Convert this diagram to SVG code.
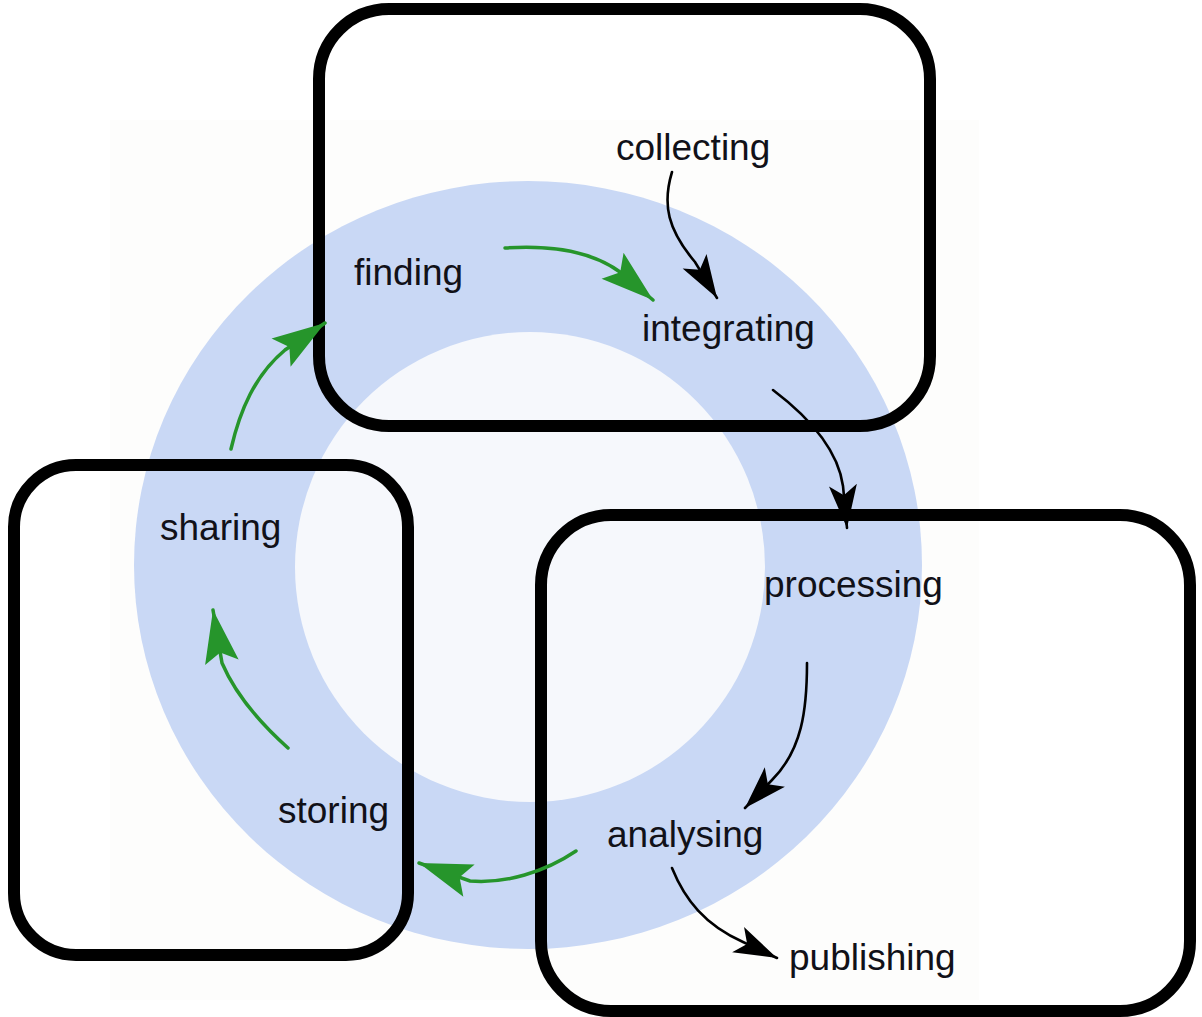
<svg xmlns="http://www.w3.org/2000/svg" width="1202" height="1017" viewBox="0 0 1202 1017">
  <defs>
    <style>
      .lbl { font-family: "Liberation Sans", Arial, Helvetica, sans-serif; font-size: 37px; fill: #111118; }
      .frame { fill: none; stroke: #000; stroke-width: 12; }
      .flow { fill: none; stroke: #26952b; stroke-width: 3.5; stroke-linecap: round; }
      .data { fill: none; stroke: #000; stroke-width: 2.6; stroke-linecap: round; }
    </style>
    <!-- barbed arrowheads, tip at the path end -->
    <marker id="head-green" viewBox="-56 -20 58 40" refX="0" refY="0" markerWidth="58" markerHeight="40" markerUnits="userSpaceOnUse" orient="auto">
      <path d="M0,0 L-53,-17 L-43,0 L-53,17 Z" fill="#26952b"/>
    </marker>
    <marker id="head-black" viewBox="-46 -16 48 32" refX="0" refY="0" markerWidth="48" markerHeight="32" markerUnits="userSpaceOnUse" orient="auto">
      <path d="M0,0 L-43,-14 L-33,0 L-43,14 Z" fill="#000"/>
    </marker>
  </defs>

  <!-- backdrop -->
  <rect x="0" y="0" width="1202" height="1017" fill="#ffffff"/>
  <rect x="110" y="120" width="869" height="880" fill="#fdfdfc"/>

  <!-- life-cycle ring -->
  <g id="ring">
    <ellipse cx="528" cy="565" rx="394" ry="384" fill="#c9d8f5"/>
    <circle cx="530" cy="567" r="235" fill="#f6f8fc"/>
  </g>

  <!-- grouping frames -->
  <g id="frame-acquire">
    <rect class="frame" x="319" y="9" width="611" height="417" rx="70" ry="70"/>
  </g>
  <g id="frame-archive">
    <rect class="frame" x="14" y="465" width="394" height="490" rx="62" ry="62"/>
  </g>
  <g id="frame-analyse">
    <rect class="frame" x="541" y="515" width="649" height="496" rx="70" ry="70"/>
  </g>

  <!-- stages -->
  <g id="collecting"><text class="lbl" x="616" y="160">collecting</text></g>
  <g id="finding"><text class="lbl" x="354" y="285">finding</text></g>
  <g id="integrating"><text class="lbl" x="642" y="341">integrating</text></g>
  <g id="processing"><text class="lbl" x="764" y="597">processing</text></g>
  <g id="analysing"><text class="lbl" x="607" y="847">analysing</text></g>
  <g id="publishing"><text class="lbl" x="789" y="970">publishing</text></g>
  <g id="sharing"><text class="lbl" x="160" y="540">sharing</text></g>
  <g id="storing"><text class="lbl" x="278" y="823">storing</text></g>

  <!-- connectors -->
  <g id="connectors">
    <path class="flow" d="M505,248 C550,245 590,250 620,272 L653,300" marker-end="url(#head-green)"/>
    <path class="flow" d="M576,851 C545,872 505,884 470,881 L419,863" marker-end="url(#head-green)"/>
    <path class="flow" d="M288,748 Q240,705 222,663 L213,610" marker-end="url(#head-green)"/>
    <path class="flow" d="M231,449 C240,410 255,375 285,350 L325,323" marker-end="url(#head-green)"/>
    <path class="data" d="M672,172 C662,205 668,230 695,262 L717,298" marker-end="url(#head-black)"/>
    <path class="data" d="M773,390 C810,418 838,450 843,486 L847,528" marker-end="url(#head-black)"/>
    <path class="data" d="M807,663 C807,710 802,750 772,780 L745,808" marker-end="url(#head-black)"/>
    <path class="data" d="M672,868 C685,900 705,925 743,942 L777,958" marker-end="url(#head-black)"/>
  </g>
</svg>
